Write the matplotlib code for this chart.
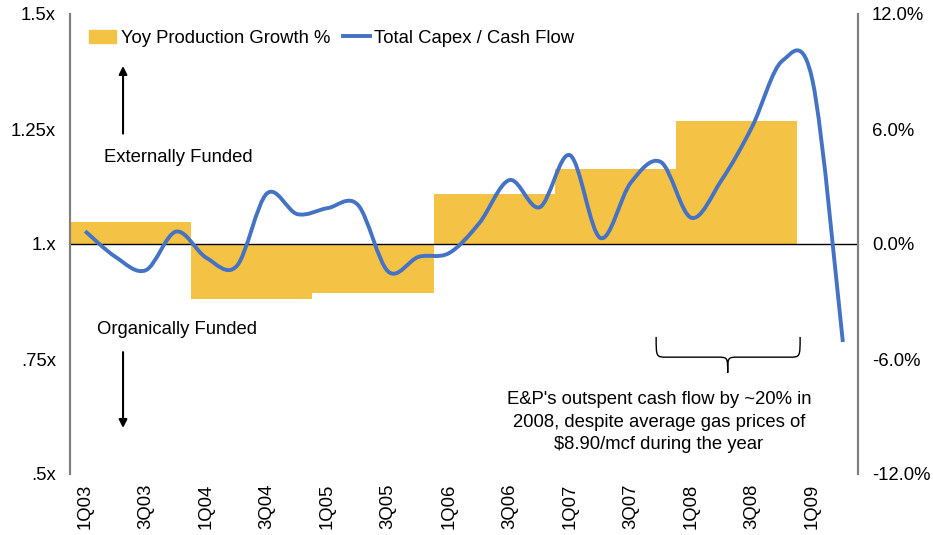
import matplotlib
matplotlib.use("Agg")
import matplotlib.pyplot as plt
from matplotlib.path import Path
from matplotlib.patches import PathPatch, Patch
from matplotlib.lines import Line2D

plt.rcParams['font.family'] = ['Liberation Sans', 'DejaVu Sans']

# quarters on the category axis
quarters = ['1Q03', '2Q03', '3Q03', '4Q03', '1Q04', '2Q04', '3Q04', '4Q04',
            '1Q05', '2Q05', '3Q05', '4Q05', '1Q06', '2Q06', '3Q06', '4Q06',
            '1Q07', '2Q07', '3Q07', '4Q07', '1Q08', '2Q08', '3Q08', '4Q08',
            '1Q09', '2Q09']

# total capex / cash flow (left axis, x)
capex_cf = [1.028, 0.972, 0.943, 1.027, 0.970, 0.952, 1.110, 1.065,
            1.078, 1.085, 0.940, 0.972, 0.980, 1.045, 1.139, 1.080,
            1.193, 1.013, 1.133, 1.178, 1.057, 1.139, 1.254, 1.398,
            1.355, 0.787]

# yoy production growth by year (right axis, %)
years = ['2003', '2004', '2005', '2006', '2007', '2008']
year_first_q = [0, 4, 8, 12, 16, 20]
prod_growth = [1.15, -2.87, -2.56, 2.6, 3.9, 6.4]

bar_color = '#F4C244'
line_color = '#4472C4'
spine_color = '#808080'
fs = 13.3

fig = plt.figure(figsize=(9.33, 5.35), dpi=100)
ax_bar = fig.add_axes([70 / 933, 1 - 474 / 535, 788 / 933, 460 / 535])
ax_line = ax_bar.twinx()

# bars span the four quarters of each year
bar_x = [q + 1.5 for q in year_first_q]
ax_bar.bar(bar_x, prod_growth, width=4, color=bar_color, zorder=1)
ax_bar.set_ylim(-12, 12)
ax_bar.set_yticks([-12, -6, 0, 6, 12])
ax_bar.set_yticklabels(['-12.0%', '-6.0%', '0.0%', '6.0%', '12.0%'])
ax_bar.yaxis.tick_right()
ax_bar.set_xlim(-0.5, len(quarters) - 0.5)
ax_bar.set_xticks(range(0, len(quarters), 2))
ax_bar.set_xticklabels(quarters[::2], rotation=90)

# smoothed line (excel-like bezier through the points)
pts = list(zip(range(len(capex_cf)), capex_cf))
verts = [pts[0]]
codes = [Path.MOVETO]
n = len(pts)
for i in range(n - 1):
    p0 = pts[max(i - 1, 0)]
    p1 = pts[i]
    p2 = pts[i + 1]
    p3 = pts[min(i + 2, n - 1)]
    c1 = (p1[0] + (p2[0] - p0[0]) / 6, p1[1] + (p2[1] - p0[1]) / 6)
    c2 = (p2[0] - (p3[0] - p1[0]) / 6, p2[1] - (p3[1] - p1[1]) / 6)
    verts += [c1, c2, p2]
    codes += [Path.CURVE4] * 3
ax_line.add_patch(PathPatch(Path(verts, codes), fill=False, edgecolor=line_color,
                            lw=2.8, capstyle='butt', zorder=3))
ax_line.axhline(1.0, color='black', lw=1, zorder=2)
ax_line.set_ylim(0.5, 1.5)
ax_line.set_yticks([0.5, 0.75, 1.0, 1.25, 1.5])
ax_line.set_yticklabels(['.5x', '.75x', '1.x', '1.25x', '1.5x'])
ax_line.yaxis.tick_left()

for a in (ax_bar, ax_line):
    a.spines['top'].set_visible(False)
    a.spines['bottom'].set_visible(False)
    a.spines['left'].set_color(spine_color)
    a.spines['right'].set_color(spine_color)
    a.spines['left'].set_linewidth(1.5)
    a.spines['right'].set_linewidth(1.5)
    a.tick_params(length=0, labelsize=fs)
ax_bar.tick_params(axis='y', pad=10)
ax_line.tick_params(axis='y', pad=10)
ax_bar.tick_params(axis='x', pad=7)

# legend
handles = [Patch(color=bar_color), Line2D([], [], color=line_color, lw=2.8)]
ax_line.legend(handles, ['Yoy Production Growth %', 'Total Capex / Cash Flow'],
               loc='upper left', bbox_to_anchor=(0.008, 0.994), ncol=2, frameon=False,
               fontsize=fs, handlelength=1.45, handletextpad=0.25, columnspacing=0.7,
               borderaxespad=0.3)

# annotations
ax_line.text(3.06, 1.189, 'Externally Funded', ha='center', va='center', fontsize=fs)
ax_line.annotate('', xy=(1.25, 1.387), xytext=(1.25, 1.24),
                 arrowprops=dict(arrowstyle='-|>', color='black', lw=1.5,
                                 mutation_scale=12, shrinkA=0, shrinkB=0))
ax_line.text(3.03, 0.815, 'Organically Funded', ha='center', va='center', fontsize=fs)
ax_line.annotate('', xy=(1.25, 0.6), xytext=(1.25, 0.765),
                 arrowprops=dict(arrowstyle='-|>', color='black', lw=1.5,
                                 mutation_scale=12, shrinkA=0, shrinkB=0))

# curly brace under 2008
xl, xr, xm = 18.84, 23.59, 21.2
yt, ym, yb = 0.798, 0.754, 0.72
r = 0.35
brace = Path([(xl, yt), (xl, ym), (xl, ym), (xl + r, ym),
              (xm - r, ym), (xm, ym), (xm, ym), (xm, yb),
              (xm, ym), (xm, ym), (xm + r, ym),
              (xr - r, ym), (xr, ym), (xr, ym), (xr, yt)],
             [Path.MOVETO, Path.CURVE4, Path.CURVE4, Path.CURVE4,
              Path.LINETO, Path.CURVE4, Path.CURVE4, Path.CURVE4,
              Path.CURVE4, Path.CURVE4, Path.CURVE4,
              Path.LINETO, Path.CURVE4, Path.CURVE4, Path.CURVE4])
ax_line.add_patch(PathPatch(brace, fill=False, edgecolor='black', lw=1))

ax_line.text(18.93, 0.613, "E&P's outspent cash flow by ~20% in\n2008, despite average gas prices of\n$8.90/mcf during the year",
             ha='center', va='center', fontsize=fs, linespacing=1.43)

fig.savefig('out.png', dpi=100)
